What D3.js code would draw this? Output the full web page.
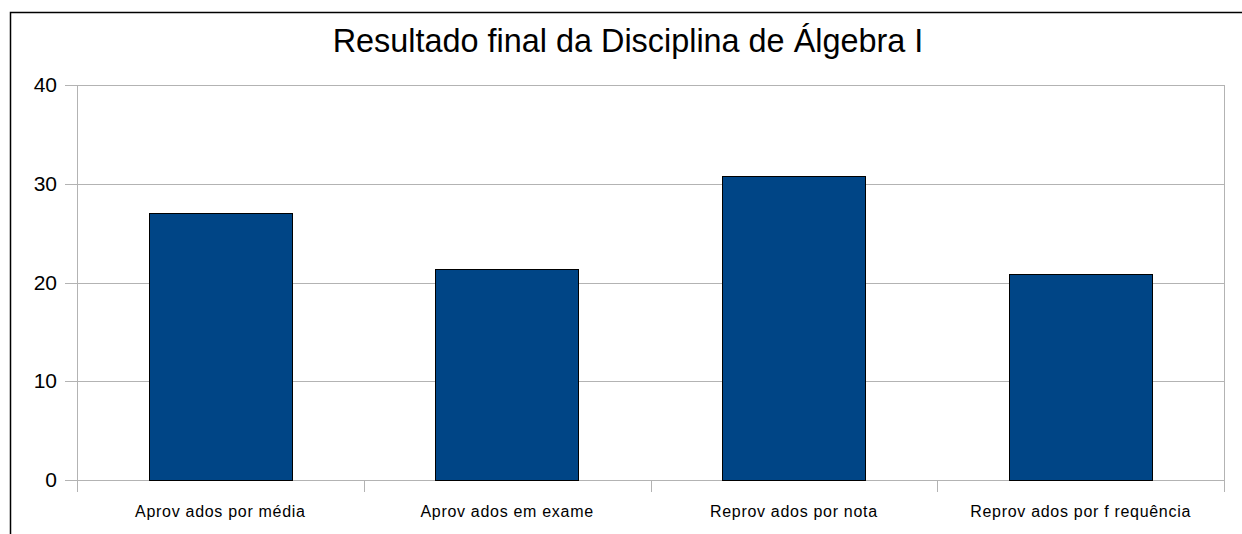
<!DOCTYPE html>
<html>
<head>
<meta charset="utf-8">
<script src="https://cdn.jsdelivr.net/npm/d3@7"></script>
<style>
    body { margin: 0; background: #fff; }
    text { font-family: "Liberation Sans", Arial, sans-serif; }
</style>
</head>
<body>
<script>
// chart data
var titleText = "Resultado final da Disciplina de Álgebra I";
var categories = ["Aprov ados por média", "Aprov ados em exame",
                  "Reprov ados por nota", "Reprov ados por f requência"];
var values = [27, 21.4, 30.8, 20.9];
var yTicks = [0, 10, 20, 30, 40];

var W = 1242, H = 534;
var margin = {top: 85, right: 18, bottom: 54, left: 77},
    width = W - margin.left - margin.right,
    height = H - margin.top - margin.bottom;

var svg = d3.select("body").append("svg")
    .attr("width", W)
    .attr("height", H);

// outer frame, it runs off the right and bottom of the picture
svg.append("rect")
    .attr("x", 10.5)
    .attr("y", 12.5)
    .attr("width", W + 20)
    .attr("height", H + 20)
    .style("fill", "none")
    .style("stroke", "black")
    .style("stroke-width", "1.5px");

svg.append("text")
    .text(titleText)
    .attr("x", 628)
    .attr("y", 52)
    .attr("text-anchor", "middle")
    .style("font-size", "32.4px")
    .attr("fill", "#000");

var g = svg.append("g")
    .attr("transform", "translate(" + margin.left + "," + margin.top + ")");

var x = d3.scaleBand().domain(categories).range([0, width]).paddingInner(0)
    .paddingOuter(0);
var y = d3.scaleLinear().domain([0, 40]).range([height, 0]);

// gridlines
g.selectAll("line.grid")
    .data(yTicks)
    .enter()
    .append("line")
    .attr("class", "grid")
    .attr("x1", -12)
    .attr("x2", width)
    .attr("y1", function(d){ return Math.round(y(d)) + 0.5; })
    .attr("y2", function(d){ return Math.round(y(d)) + 0.5; })
    .style("stroke", "#b3b3b3")
    .style("stroke-width", "1px");

// right border of the plot area
g.append("line")
    .attr("x1", width + 0.5).attr("x2", width + 0.5)
    .attr("y1", 0).attr("y2", height + 12)
    .style("stroke", "#b3b3b3");

// y axis line
g.append("line")
    .attr("x1", 0.5).attr("x2", 0.5)
    .attr("y1", 0).attr("y2", height + 12)
    .style("stroke", "#b3b3b3");

// x ticks between categories
g.selectAll("line.xtick")
    .data(categories.slice(1))
    .enter()
    .append("line")
    .attr("class", "xtick")
    .attr("x1", function(d){ return Math.round(x(d)) + 0.5; })
    .attr("x2", function(d){ return Math.round(x(d)) + 0.5; })
    .attr("y1", height)
    .attr("y2", height + 12)
    .style("stroke", "#b3b3b3");

// y labels
g.selectAll("text.ylab")
    .data(yTicks)
    .enter()
    .append("text")
    .attr("class", "ylab")
    .text(function(d){ return d; })
    .attr("x", -20)
    .attr("y", function(d){ return y(d) + 7; })
    .attr("text-anchor", "end")
    .style("font-size", "21px");

// bars
var bw = x.bandwidth() * 0.5;
g.selectAll("rect.bar")
    .data(values)
    .enter()
    .append("rect")
    .attr("class", "bar")
    .attr("x", function(d, i){
        return Math.round(x(categories[i]) + x.bandwidth() / 2 - bw / 2) + 0.5;
    })
    .attr("y", function(d){ return Math.round(y(d)) + 0.5; })
    .attr("width", Math.round(bw))
    .attr("height", function(d){ return Math.round(height - y(d)); })
    .style("fill", "#004586")
    .style("stroke", "#000")
    .style("stroke-width", "1px");

// x labels
g.selectAll("text.xlab")
    .data(categories)
    .enter()
    .append("text")
    .attr("class", "xlab")
    .text(function(d){ return d; })
    .attr("x", function(d){ return x(d) + x.bandwidth() / 2; })
    .attr("y", height + 37)
    .attr("text-anchor", "middle")
    .style("font-size", "16px")
    .style("letter-spacing", "0.7px");
</script>
</body>
</html>
